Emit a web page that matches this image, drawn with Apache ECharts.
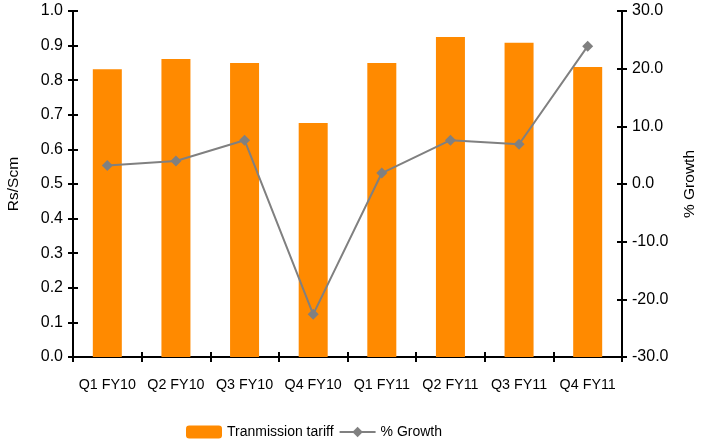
<!DOCTYPE html>
<html><head><meta charset="utf-8">
<script src="https://cdn.jsdelivr.net/npm/echarts@6/dist/echarts.min.js"></script>
<style>html,body{margin:0;padding:0;background:#fff}#c{width:712px;height:445px}</style>
</head><body><div id="c"></div>
<script>
const categories = ['Q1 FY10','Q2 FY10','Q3 FY10','Q4 FY10','Q1 FY11','Q2 FY11','Q3 FY11','Q4 FY11'];
const tariff = [0.832, 0.861, 0.850, 0.676, 0.850, 0.925, 0.908, 0.838];
const growth = [3.2, 4.0, 7.6, -22.6, 1.9, 7.6, 6.9, 23.9];

const font = 'Liberation Sans, Arial, sans-serif';
const axLine = {show:true, onZero:false, lineStyle:{color:'#000', width:2}};
const chart = echarts.init(document.getElementById('c'));
chart.setOption({
  animation:false,
  grid:{left:73, right:90, top:11, bottom:88, outerBoundsMode:'none', containLabel:false},
  legend:{
    bottom:1, left:181, itemGap:5,
    itemWidth:36, itemHeight:13,
    textStyle:{fontFamily:font, fontSize:14, color:'#000'},
    data:[{name:'Tranmission tariff'},{name:'% Growth'}]
  },
  xAxis:[
    {type:'category', data:categories, axisLine:axLine,
     axisTick:{show:true, length:5, lineStyle:{color:'#000', width:2}},
     axisLabel:{fontFamily:font, fontSize:14.3, color:'#000', margin:21, interval:0}},
    {type:'category', data:categories, position:'bottom', axisLine:{show:false, onZero:false},
     axisTick:{show:true, inside:true, length:5, lineStyle:{color:'#000', width:2}},
     axisLabel:{show:false}}
  ],
  yAxis:[
    {type:'value', min:0, max:1, interval:0.1, position:'left',
     name:'Rs/Scm', nameLocation:'middle', nameGap:51, nameRotate:90,
     nameTextStyle:{fontFamily:font, fontSize:15.5, color:'#000'},
     axisLine:axLine, splitLine:{show:false},
     axisTick:{show:true, length:5, lineStyle:{color:'#000', width:2}},
     axisLabel:{fontFamily:font, fontSize:16, color:'#000', margin:10, formatter:v=>v.toFixed(1)}},
    {type:'value', min:-30, max:30, interval:10, position:'right',
     name:'% Growth', nameLocation:'middle', nameGap:60, nameRotate:90,
     nameTextStyle:{fontFamily:font, fontSize:15.5, color:'#000'},
     axisLine:axLine, splitLine:{show:false},
     axisTick:{show:true, length:5, lineStyle:{color:'#000', width:2}},
     axisLabel:{fontFamily:font, fontSize:16, color:'#000', margin:10, formatter:v=>v.toFixed(1)}},
    {type:'value', min:0, max:1, interval:0.1, position:'left', axisLine:{show:false, onZero:false},
     splitLine:{show:false}, axisLabel:{show:false},
     axisTick:{show:true, inside:true, length:5, lineStyle:{color:'#000', width:2}}},
    {type:'value', min:-30, max:30, interval:10, position:'right', axisLine:{show:false, onZero:false},
     splitLine:{show:false}, axisLabel:{show:false},
     axisTick:{show:true, inside:true, length:5, lineStyle:{color:'#000', width:2}}}
  ],
  series:[
    {name:'Tranmission tariff', type:'bar', data:tariff, barWidth:29, yAxisIndex:0,
     itemStyle:{color:'#FF8A00'}},
    {name:'% Growth', type:'line', data:growth, yAxisIndex:1,
     symbol:'diamond', symbolSize:11, lineStyle:{color:'#808080', width:2},
     itemStyle:{color:'#808080'}}
  ]
});
</script></body></html>
